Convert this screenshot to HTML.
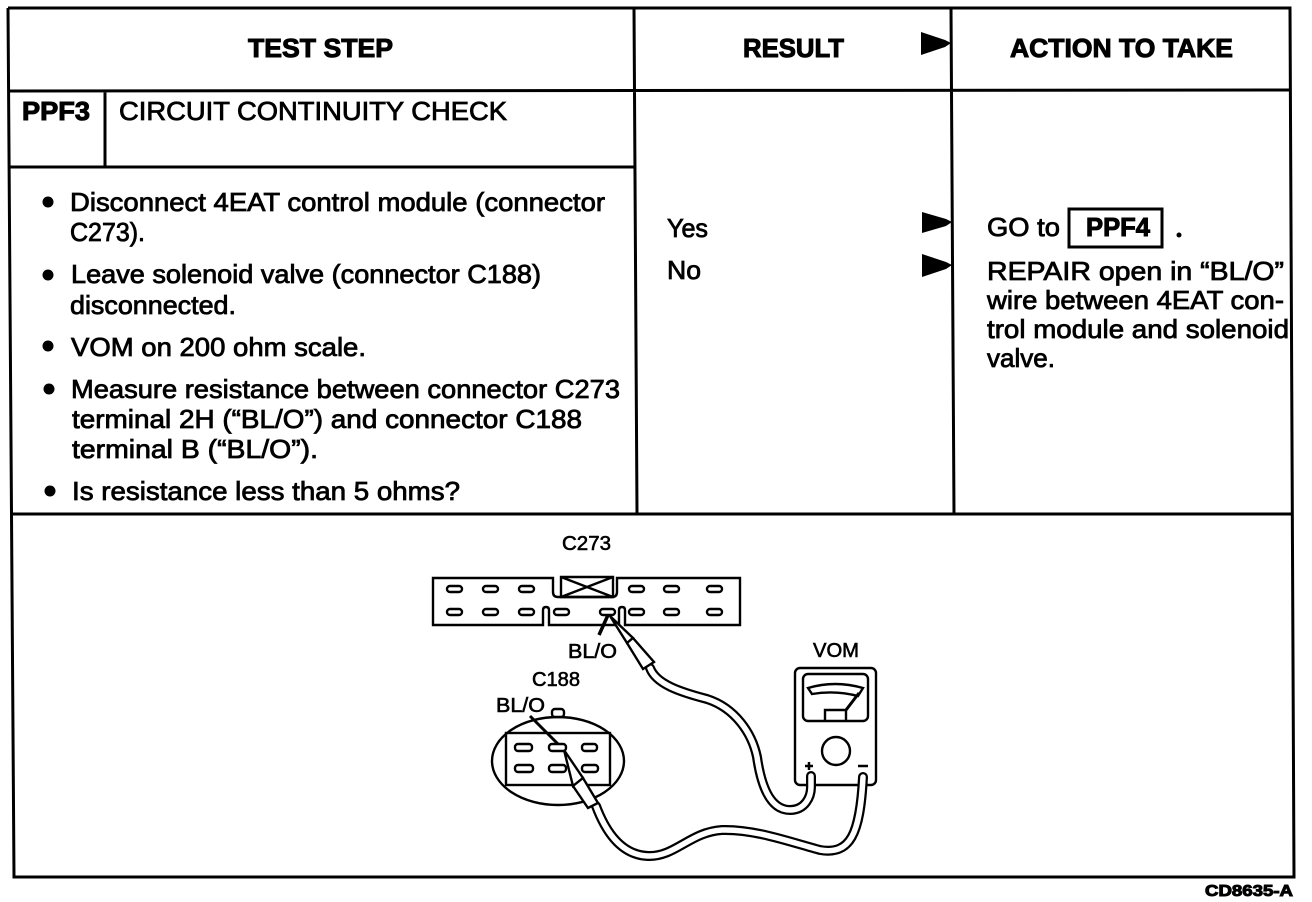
<!DOCTYPE html>
<html><head><meta charset="utf-8"><style>
html,body{margin:0;padding:0;background:#fff;width:1312px;height:902px;overflow:hidden}
svg{display:block}
text{font-family:"Liberation Sans",sans-serif;fill:#000;stroke:#000;stroke-width:.8}
.b{font-size:26px}
.h{font-size:26px;font-weight:bold;stroke-width:1}
.s{font-size:20px;stroke-width:.6}
.l{fill:none;stroke:#000;stroke-width:3}
.t{fill:#fff;stroke:#000;stroke-width:2.4}
.d{fill:none;stroke:#000;stroke-width:2.4}
.w1{fill:none;stroke:#000;stroke-width:10;stroke-linejoin:round;stroke-linecap:round}
.w2{fill:none;stroke:#fff;stroke-width:5.5;stroke-linejoin:round;stroke-linecap:round}
</style></head><body>
<svg width="1312" height="902" viewBox="0 0 1312 902" xmlns="http://www.w3.org/2000/svg">
<rect width="1312" height="902" fill="#fff"/>
<!-- table -->
<path class="l" d="M8 8H1290L1294 877H14L8 8"/>
<path class="l" d="M634 8L637 514M951 8L954 514M8 91L1291 90M9 167H636M105 91V167M11 514H1292"/>
<text class="h" x="248" y="57" textLength="145" lengthAdjust="spacingAndGlyphs">TEST STEP</text>
<text class="h" x="743" y="57" textLength="101" lengthAdjust="spacingAndGlyphs">RESULT</text>
<text class="h" x="1010" y="57" textLength="223" lengthAdjust="spacingAndGlyphs">ACTION TO TAKE</text>
<text class="h" x="22" y="120" textLength="68" lengthAdjust="spacingAndGlyphs">PPF3</text>
<text class="b" x="119" y="120" textLength="388" lengthAdjust="spacingAndGlyphs">CIRCUIT CONTINUITY CHECK</text>
<path d="M921 32L945 40L951 43L945 47L921 55ZM922 212L946 219L952 222L946 226L922 233ZM922 254L946 262L952 265L946 269L922 277Z"/>
<!-- bullets -->
<circle cx="48" cy="202" r="5.5"/><circle cx="48" cy="275" r="5.5"/><circle cx="48" cy="346" r="5.5"/><circle cx="49" cy="389" r="5.5"/><circle cx="50" cy="491" r="5.5"/>
<text class="b" x="70" y="211" textLength="535" lengthAdjust="spacingAndGlyphs">Disconnect 4EAT control module (connector</text>
<text class="b" x="70" y="241" textLength="75" lengthAdjust="spacingAndGlyphs">C273).</text>
<text class="b" x="71" y="283" textLength="470" lengthAdjust="spacingAndGlyphs">Leave solenoid valve (connector C188)</text>
<text class="b" x="70" y="314" textLength="166" lengthAdjust="spacingAndGlyphs">disconnected.</text>
<text class="b" x="71" y="356" textLength="295" lengthAdjust="spacingAndGlyphs">VOM on 200 ohm scale.</text>
<text class="b" x="71" y="398" textLength="549" lengthAdjust="spacingAndGlyphs">Measure resistance between connector C273</text>
<text class="b" x="72" y="428" textLength="510" lengthAdjust="spacingAndGlyphs">terminal 2H (“BL/O”) and connector C188</text>
<text class="b" x="72" y="458" textLength="246" lengthAdjust="spacingAndGlyphs">terminal B (“BL/O”).</text>
<text class="b" x="72" y="500" textLength="388" lengthAdjust="spacingAndGlyphs">Is resistance less than 5 ohms?</text>
<text class="b" x="667" y="237" textLength="41" lengthAdjust="spacingAndGlyphs">Yes</text>
<text class="b" x="667" y="279" textLength="34" lengthAdjust="spacingAndGlyphs">No</text>
<text class="b" x="987" y="236" textLength="73" lengthAdjust="spacingAndGlyphs">GO to</text>
<rect x="1069" y="209" width="93" height="38" fill="none" stroke="#000" stroke-width="3"/>
<text class="h" x="1086" y="236" textLength="64" lengthAdjust="spacingAndGlyphs">PPF4</text>
<circle cx="1179" cy="235" r="2.5"/>
<text class="b" x="987" y="280" textLength="297" lengthAdjust="spacingAndGlyphs">REPAIR open in “BL/O”</text>
<text class="b" x="987" y="309" textLength="297" lengthAdjust="spacingAndGlyphs">wire between 4EAT con-</text>
<text class="b" x="987" y="338" textLength="302" lengthAdjust="spacingAndGlyphs">trol module and solenoid</text>
<text class="b" x="987" y="367" textLength="68" lengthAdjust="spacingAndGlyphs">valve.</text>
<!-- connector C273 -->
<text class="s" x="562" y="550" textLength="49" lengthAdjust="spacingAndGlyphs">C273</text>
<path class="d" d="M433 578H553V592Q553 597 558 597H612Q617 597 617 592V578H740V625H625V610Q625 607 622 607Q619 607 619 610V625H549V610Q549 607 546 607Q543 607 543 610V625H433Z"/>
<path class="d" d="M561 577H613V597H561ZM561 577L613 597M613 577L561 597"/>
<g class="t">
<rect x="447" y="586" width="15" height="6" rx="3"/><rect x="483" y="586" width="15" height="6" rx="3"/><rect x="519" y="586" width="15" height="6" rx="3"/>
<rect x="629" y="586" width="15" height="6" rx="3"/><rect x="664" y="586" width="15" height="6" rx="3"/><rect x="707" y="586" width="15" height="6" rx="3"/>
<rect x="447" y="609" width="15" height="6" rx="3"/><rect x="483" y="609" width="15" height="6" rx="3"/><rect x="519" y="609" width="15" height="6" rx="3"/>
<rect x="554" y="609" width="15" height="6" rx="3"/><rect x="600" y="609" width="15" height="6" rx="3"/><rect x="629" y="609" width="15" height="6" rx="3"/>
<rect x="664" y="609" width="15" height="6" rx="3"/><rect x="707" y="609" width="15" height="6" rx="3"/>
</g>
<path d="M608 615L599 635" stroke="#000" stroke-width="3.5"/>
<text class="s" x="568" y="658" textLength="49" lengthAdjust="spacingAndGlyphs">BL/O</text>
<!-- VOM -->
<text class="s" x="813" y="657" textLength="46" lengthAdjust="spacingAndGlyphs">VOM</text>
<rect class="d" x="795" y="668" width="81" height="117" rx="5"/>
<rect class="d" x="803" y="674" width="65" height="47" rx="5"/>
<path class="d" d="M808 688Q835 680 863 688L858 696Q835 690 812 694Z"/>
<path class="d" d="M825 721V710H846L859 693M846 710V721" />
<path d="M846 710L859 693" stroke="#000" stroke-width="3"/>
<circle class="d" cx="836" cy="751" r="14"/>
<path d="M805 766H813M809 762V770M858 766H868" stroke="#000" stroke-width="2.5"/>
<!-- upper wire -->
<path class="w1" d="M650 668C656 684 680 692 707 699C735 708 752 733 757 757C761 785 770 810 790 810C805 810 811 797 811 787L811 776"/>
<path class="w2" d="M650 668C656 684 680 692 707 699C735 708 752 733 757 757C761 785 770 810 790 810C805 810 811 797 811 787L811 776"/>
<path d="M610 616L627 643L633 638Z" fill="#fff" stroke="#000" stroke-width="2.4"/>
<path d="M627 643L633 638L654 662L643 669Z" fill="#fff" stroke="#000" stroke-width="2.4"/>
<!-- C188 -->
<text class="s" x="532" y="686" textLength="48" lengthAdjust="spacingAndGlyphs">C188</text>
<text class="s" x="496" y="712" textLength="49" lengthAdjust="spacingAndGlyphs">BL/O</text>
<ellipse class="d" cx="558" cy="761" rx="66" ry="44"/>
<rect x="552" y="709" width="12" height="8" rx="3" fill="#fff" stroke="#000" stroke-width="2.4"/>
<rect class="d" x="506" y="733" width="104" height="52" fill="#fff"/>
<g class="t">
<rect x="515" y="744" width="17" height="7" rx="3"/><rect x="549" y="744" width="17" height="7" rx="3"/><rect x="582" y="744" width="15" height="7" rx="3"/>
<rect x="515" y="765" width="18" height="7" rx="3"/><rect x="549" y="765" width="17" height="7" rx="3"/><rect x="582" y="765" width="16" height="7" rx="3"/>
</g>
<path d="M530 716L558 744" stroke="#000" stroke-width="3"/>
<!-- lower wire -->
<path class="w1" d="M596 806C605 830 620 855 648 856C675 857 690 832 722 830C755 829 790 842 820 850C850 855 860 835 863 777"/>
<path class="w2" d="M596 806C605 830 620 855 648 856C675 857 690 832 722 830C755 829 790 842 820 850C850 855 860 835 863 777"/>
<path d="M564 750L573 786L583 778Z" fill="#fff" stroke="#000" stroke-width="2.4"/>
<path d="M573 786L583 778L598 803L588 808Z" fill="#fff" stroke="#000" stroke-width="2.4"/>
<text x="1205" y="896" textLength="88" lengthAdjust="spacingAndGlyphs" style="font-size:16px;font-weight:bold;stroke-width:1">CD8635-A</text>
</svg>
</body></html>
